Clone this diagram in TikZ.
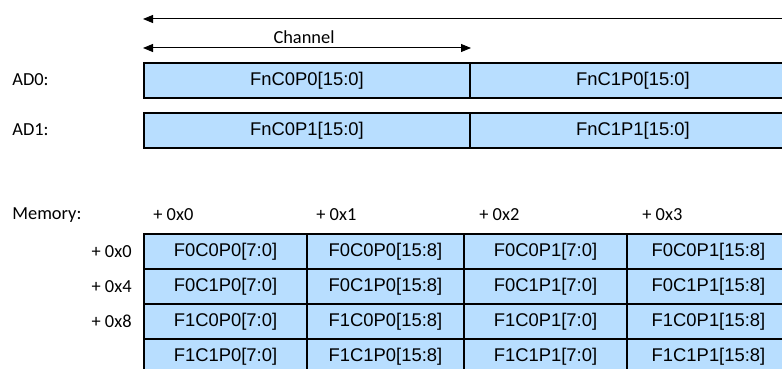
\documentclass[tikz,border=0pt]{standalone}
\usepackage{fontspec}
\setmainfont{Liberation Sans}
\newfontfamily\labelfont{Carlito}
\usetikzlibrary{arrows.meta,positioning}
\definecolor{cellblue}{HTML}{B8DEFF}

\tikzset{
  cell/.style={draw=black, line width=1pt, fill=cellblue, anchor=north west,
    inner sep=0pt, font=\fontsize{9.2}{11}\selectfont},
  tag/.style={font=\labelfont\fontsize{9.2}{11}\selectfont, inner sep=0pt},
  span/.style={line width=0.5pt, {Triangle[length=5pt,width=4pt]}-{Triangle[length=5pt,width=4pt]}}
}

\begin{document}
\begin{tikzpicture}[x=0.5pt, y=-0.5pt]
  \useasboundingbox (0,0) rectangle (782,369);
  \clip (0,0) rectangle (782,369);

  % burst and channel spans
  \coordinate (topL) at (143,19);
  \coordinate (topR) at (820,19);
  \draw[line width=0.5pt, {Triangle[length=5pt,width=4pt]}-] (topL) -- (topR);

  % AD rows
  \node[tag, anchor=west] (ad0) at (12,80) {AD0:};
  \node[cell, minimum width=163pt, minimum height=17.5pt] (ad0a) at (143,62) {FnC0P0[15:0]};
  \node[cell, minimum width=163pt, minimum height=17.5pt] (ad0b) at (469,62) {FnC1P0[15:0]};

  \node[tag, anchor=west] (ad1) at (12,130) {AD1:};
  \node[cell, minimum width=163pt, minimum height=17.5pt] (ad1a) at (143,112) {FnC0P1[15:0]};
  \node[cell, minimum width=163pt, minimum height=17.5pt] (ad1b) at (469,112) {FnC1P1[15:0]};

  \coordinate (chL) at (ad0a.north west |- 0,48);
  \coordinate (chR) at (ad0a.north east |- 0,48);
  \draw[span] (chL) -- (chR);
  \node[tag] (chan) at (304,37) {Channel};

  % Memory map
  \node[tag, anchor=west] (mem) at (12,215) {Memory:};
  \foreach \c/\x in {0/153, 1/316, 2/479, 3/642}
    \node[tag, anchor=west] (col\c) at (\x,215) {+ 0x\c};

  \foreach \r/\y/\f/\ch in {0/233/0/0, 1/268/0/1, 2/303/1/0, 3/338/1/1} {
    \foreach \c/\x/\w/\p/\bits in {0/143/163/0/7:0, 1/306/157/0/15:8, 2/463/163/1/7:0, 3/626/163/1/15:8}
      \node[cell, minimum width=\w*0.5pt, minimum height=17.5pt] (m\r\c) at (\x,\y) {F\f C\ch P\p[\bits]};
  }
  \foreach \r/\off in {0/0, 1/4, 2/8}
    \node[tag, anchor=east] (row\r) at ([xshift=-5.5pt]m\r0.west) {+ 0x\off};
\end{tikzpicture}
\end{document}
